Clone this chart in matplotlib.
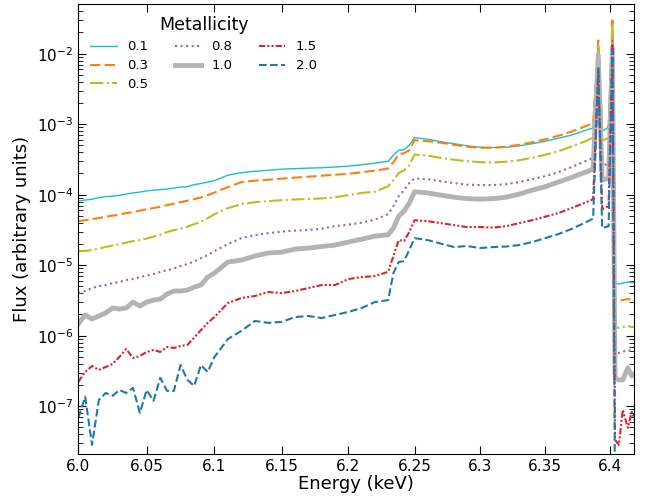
import matplotlib
matplotlib.use('Agg')
import matplotlib.pyplot as plt
from matplotlib.ticker import NullLocator

# energy grid (keV)
energy = [6.000, 6.005, 6.010, 6.015, 6.020, 6.025, 6.030, 6.035, 6.040, 6.045,
          6.050, 6.055, 6.060, 6.065, 6.070, 6.075, 6.080, 6.085, 6.090, 6.095,
          6.100, 6.110, 6.120, 6.130, 6.140, 6.150, 6.160, 6.170, 6.180, 6.190,
          6.200, 6.210, 6.220, 6.230, 6.234, 6.238, 6.242, 6.246, 6.250, 6.260,
          6.270, 6.280, 6.290, 6.300, 6.310, 6.320, 6.330, 6.340, 6.350, 6.360,
          6.370, 6.380, 6.387, 6.391, 6.394, 6.399, 6.402, 6.404, 6.407, 6.410,
          6.414, 6.417, 6.420]

# flux for each metallicity
flux_01 = [8.1e-5, 8.4e-5, 8.6e-5, 9.1e-5, 9.4e-5, 9.5e-5, 9.8e-5, 1.02e-4, 1.06e-4, 1.09e-4,
           1.13e-4, 1.16e-4, 1.18e-4, 1.20e-4, 1.24e-4, 1.28e-4, 1.30e-4, 1.39e-4, 1.44e-4, 1.51e-4,
           1.58e-4, 1.89e-4, 2.05e-4, 2.15e-4, 2.22e-4, 2.30e-4, 2.34e-4, 2.38e-4, 2.41e-4, 2.47e-4,
           2.54e-4, 2.66e-4, 2.80e-4, 2.98e-4, 3.63e-4, 4.27e-4, 4.34e-4, 5.03e-4, 6.46e-4, 6.11e-4,
           5.63e-4, 5.28e-4, 4.94e-4, 4.70e-4, 4.66e-4, 4.70e-4, 4.94e-4, 5.28e-4, 5.73e-4, 6.32e-4,
           6.97e-4, 8.06e-4, 8.89e-4, 1.31e-2, 7.94e-4, 9.04e-4, 2.28e-2, 5.58e-6, 5.40e-6, 5.58e-6,
           5.77e-6, 5.70e-6, 5.58e-6]
flux_03 = [4.21e-5, 4.35e-5, 4.50e-5, 4.65e-5, 4.88e-5, 5.04e-5, 5.21e-5, 5.47e-5, 5.66e-5, 5.94e-5,
           6.23e-5, 6.44e-5, 6.76e-5, 7.10e-5, 7.46e-5, 7.83e-5, 8.22e-5, 8.64e-5, 9.13e-5, 9.84e-5,
           1.07e-4, 1.28e-4, 1.51e-4, 1.58e-4, 1.63e-4, 1.69e-4, 1.75e-4, 1.80e-4, 1.86e-4, 1.92e-4,
           1.98e-4, 2.08e-4, 2.19e-4, 2.35e-4, 2.89e-4, 3.75e-4, 3.87e-4, 4.27e-4, 5.92e-4, 5.73e-4,
           5.45e-4, 5.11e-4, 4.79e-4, 4.63e-4, 4.63e-4, 4.79e-4, 5.11e-4, 5.54e-4, 6.11e-4, 6.85e-4,
           7.80e-4, 9.19e-4, 1.03e-3, 1.54e-2, 8.75e-4, 9.04e-4, 2.96e-2, 3.20e-6, 3.10e-6, 3.20e-6,
           3.31e-6, 3.20e-6, 3.10e-6]
flux_05 = [1.59e-5, 1.59e-5, 1.64e-5, 1.72e-5, 1.81e-5, 1.90e-5, 1.99e-5, 2.09e-5, 2.20e-5, 2.27e-5,
           2.38e-5, 2.54e-5, 2.71e-5, 2.95e-5, 3.14e-5, 3.30e-5, 3.52e-5, 3.82e-5, 4.12e-5, 4.65e-5,
           5.29e-5, 6.44e-5, 7.34e-5, 7.83e-5, 8.10e-5, 8.36e-5, 8.55e-5, 8.69e-5, 8.84e-5, 9.22e-5,
           9.84e-5, 1.06e-4, 1.10e-4, 1.32e-4, 1.61e-4, 2.02e-4, 2.22e-4, 2.62e-4, 3.71e-4, 3.57e-4,
           3.34e-4, 3.13e-4, 2.98e-4, 2.89e-4, 2.86e-4, 2.94e-4, 3.08e-4, 3.34e-4, 3.68e-4, 4.13e-4,
           4.79e-4, 5.63e-4, 6.42e-4, 1.36e-2, 5.92e-4, 6.32e-4, 2.60e-2, 1.33e-6, 1.29e-6, 1.33e-6,
           1.37e-6, 1.33e-6, 1.33e-6]
flux_08 = [4.02e-6, 4.30e-6, 4.74e-6, 5.06e-6, 5.23e-6, 5.58e-6, 5.77e-6, 6.15e-6, 6.36e-6, 6.78e-6,
           7.13e-6, 7.49e-6, 7.99e-6, 8.52e-6, 8.95e-6, 9.71e-6, 1.04e-5, 1.13e-5, 1.26e-5, 1.39e-5,
           1.59e-5, 1.99e-5, 2.42e-5, 2.67e-5, 2.85e-5, 2.99e-5, 3.09e-5, 3.16e-5, 3.30e-5, 3.58e-5,
           3.76e-5, 4.01e-5, 4.42e-5, 5.29e-5, 6.87e-5, 9.52e-5, 1.16e-4, 1.46e-4, 1.70e-4, 1.66e-4,
           1.55e-4, 1.46e-4, 1.39e-4, 1.37e-4, 1.37e-4, 1.41e-4, 1.51e-4, 1.66e-4, 1.83e-4, 2.08e-4,
           2.45e-4, 2.94e-4, 3.34e-4, 8.0e-3, 2.54e-4, 2.80e-4, 1.54e-2, 5.88e-7, 5.69e-7, 5.88e-7,
           6.27e-7, 6.07e-7, 6.07e-7]
flux_10 = [1.47e-6, 1.97e-6, 1.73e-6, 1.90e-6, 2.10e-6, 2.47e-6, 2.39e-6, 2.47e-6, 3.00e-6, 2.63e-6,
           3.00e-6, 3.20e-6, 3.31e-6, 3.89e-6, 4.30e-6, 4.30e-6, 4.44e-6, 4.89e-6, 5.23e-6, 6.78e-6,
           7.73e-6, 1.11e-5, 1.18e-5, 1.35e-5, 1.49e-5, 1.53e-5, 1.69e-5, 1.75e-5, 1.84e-5, 1.93e-5,
           2.13e-5, 2.34e-5, 2.58e-5, 2.71e-5, 3.36e-5, 4.96e-5, 5.84e-5, 7.58e-5, 1.10e-4, 1.06e-4,
           9.84e-5, 9.22e-5, 8.78e-5, 8.64e-5, 8.78e-5, 9.22e-5, 1.02e-4, 1.16e-4, 1.30e-4, 1.51e-4,
           1.75e-4, 2.05e-4, 2.30e-4, 9.5e-3, 1.61e-4, 1.71e-4, 1.19e-2, 2.52e-7, 2.36e-7, 2.36e-7,
           3.49e-7, 2.69e-7, 2.97e-7]
flux_15 = [2.21e-7, 3.06e-7, 3.72e-7, 3.27e-7, 3.60e-7, 3.97e-7, 4.99e-7, 6.48e-7, 4.83e-7, 5.16e-7,
           5.88e-7, 6.27e-7, 5.88e-7, 6.92e-7, 6.69e-7, 7.15e-7, 7.40e-7, 9.40e-7, 1.20e-6, 1.52e-6,
           1.84e-6, 2.91e-6, 3.42e-6, 3.65e-6, 4.16e-6, 4.02e-6, 4.30e-6, 4.74e-6, 5.23e-6, 5.23e-6,
           6.36e-6, 6.78e-6, 7.01e-6, 8.06e-6, 1.35e-5, 2.27e-5, 2.20e-5, 2.95e-5, 4.35e-5, 4.21e-5,
           3.95e-5, 3.70e-5, 3.47e-5, 3.47e-5, 3.41e-5, 3.58e-5, 3.95e-5, 4.35e-5, 4.88e-5, 5.47e-5,
           6.44e-5, 7.58e-5, 8.64e-5, 5.8e-3, 6.23e-5, 6.87e-5, 1.31e-2, 3.33e-8, 2.83e-8, 8.86e-8,
           4.93e-8, 8.30e-8, 6.00e-8]
flux_20 = [6.83e-8, 1.36e-7, 2.83e-8, 1.23e-7, 1.54e-7, 1.40e-7, 1.70e-7, 1.54e-7, 1.82e-7, 8.04e-8,
           1.70e-7, 1.19e-7, 2.52e-7, 1.65e-7, 1.65e-7, 3.84e-7, 2.36e-7, 1.94e-7, 3.84e-7, 3.06e-7,
           4.99e-7, 8.98e-7, 1.17e-6, 1.62e-6, 1.52e-6, 1.57e-6, 1.84e-6, 1.90e-6, 1.78e-6, 1.97e-6,
           2.17e-6, 2.47e-6, 3.00e-6, 3.20e-6, 7.73e-6, 1.11e-5, 1.14e-5, 1.64e-5, 2.42e-5, 2.27e-5,
           2.02e-5, 1.81e-5, 1.87e-5, 1.75e-5, 1.81e-5, 1.84e-5, 1.93e-5, 2.13e-5, 2.42e-5, 2.76e-5,
           3.25e-5, 3.95e-5, 4.57e-5, 6.2e-3, 3.36e-5, 3.58e-5, 1.11e-2, 5e-9, 5e-9, 5e-9,
           5e-9, 5e-9, 5e-9]

labels = ['0.1', '0.3', '0.5', '0.8', '1.0', '1.5', '2.0']
series = [flux_01, flux_03, flux_05, flux_08, flux_10, flux_15, flux_20]

xticks = [6.0, 6.05, 6.1, 6.15, 6.2, 6.25, 6.3, 6.35, 6.4]
xticklabels = ['6.0', '6.05', '6.1', '6.15', '6.2', '6.25', '6.3', '6.35', '6.4']
yticks = [1e-7, 1e-6, 1e-5, 1e-4, 1e-3, 1e-2]

# styles for each curve
styles = [
    dict(color='#17becf', linestyle='-', linewidth=1.0),
    dict(color='#ff7f0e', linestyle=(0, (5, 2)), linewidth=1.5),
    dict(color='#bcbd22', linestyle='-.', linewidth=1.5),
    dict(color='#9467bd', linestyle=':', linewidth=1.5),
    dict(color='#b3b3b3', linestyle='-', linewidth=3.5),
    dict(color='#d62728', linestyle=(0, (3, 1, 1, 1, 1, 1)), linewidth=1.5),
    dict(color='#1f77b4', linestyle='--', linewidth=1.5),
]

fig = plt.figure(figsize=(6.45, 4.99), dpi=100)
ax = fig.add_axes([0.1214, 0.0902, 0.862, 0.901])

for lab, flux, st in zip(labels, series, styles):
    ax.plot(energy, flux, label=lab, **st)

ax.set_xscale('log')
ax.set_yscale('log')
ax.set_xlim(6.0, 6.419)
ax.set_ylim(2.1e-8, 5e-2)
ax.set_xticks(xticks, xticklabels)
ax.xaxis.set_minor_locator(NullLocator())
ax.set_yticks(yticks)

ax.tick_params(which='both', direction='in', top=True, right=True, labelsize=11)
ax.tick_params(which='major', length=6)
ax.tick_params(which='minor', length=3.5)

ax.set_xlabel('Energy (keV)', fontsize=13, labelpad=1)
ax.set_ylabel('Flux (arbitrary units)', fontsize=13)

ax.legend(title='Metallicity', ncol=3, loc='upper left', frameon=False,
          fontsize=9.5, title_fontsize=12.5, labelspacing=0.45)

plt.savefig('out.png', dpi=100)
